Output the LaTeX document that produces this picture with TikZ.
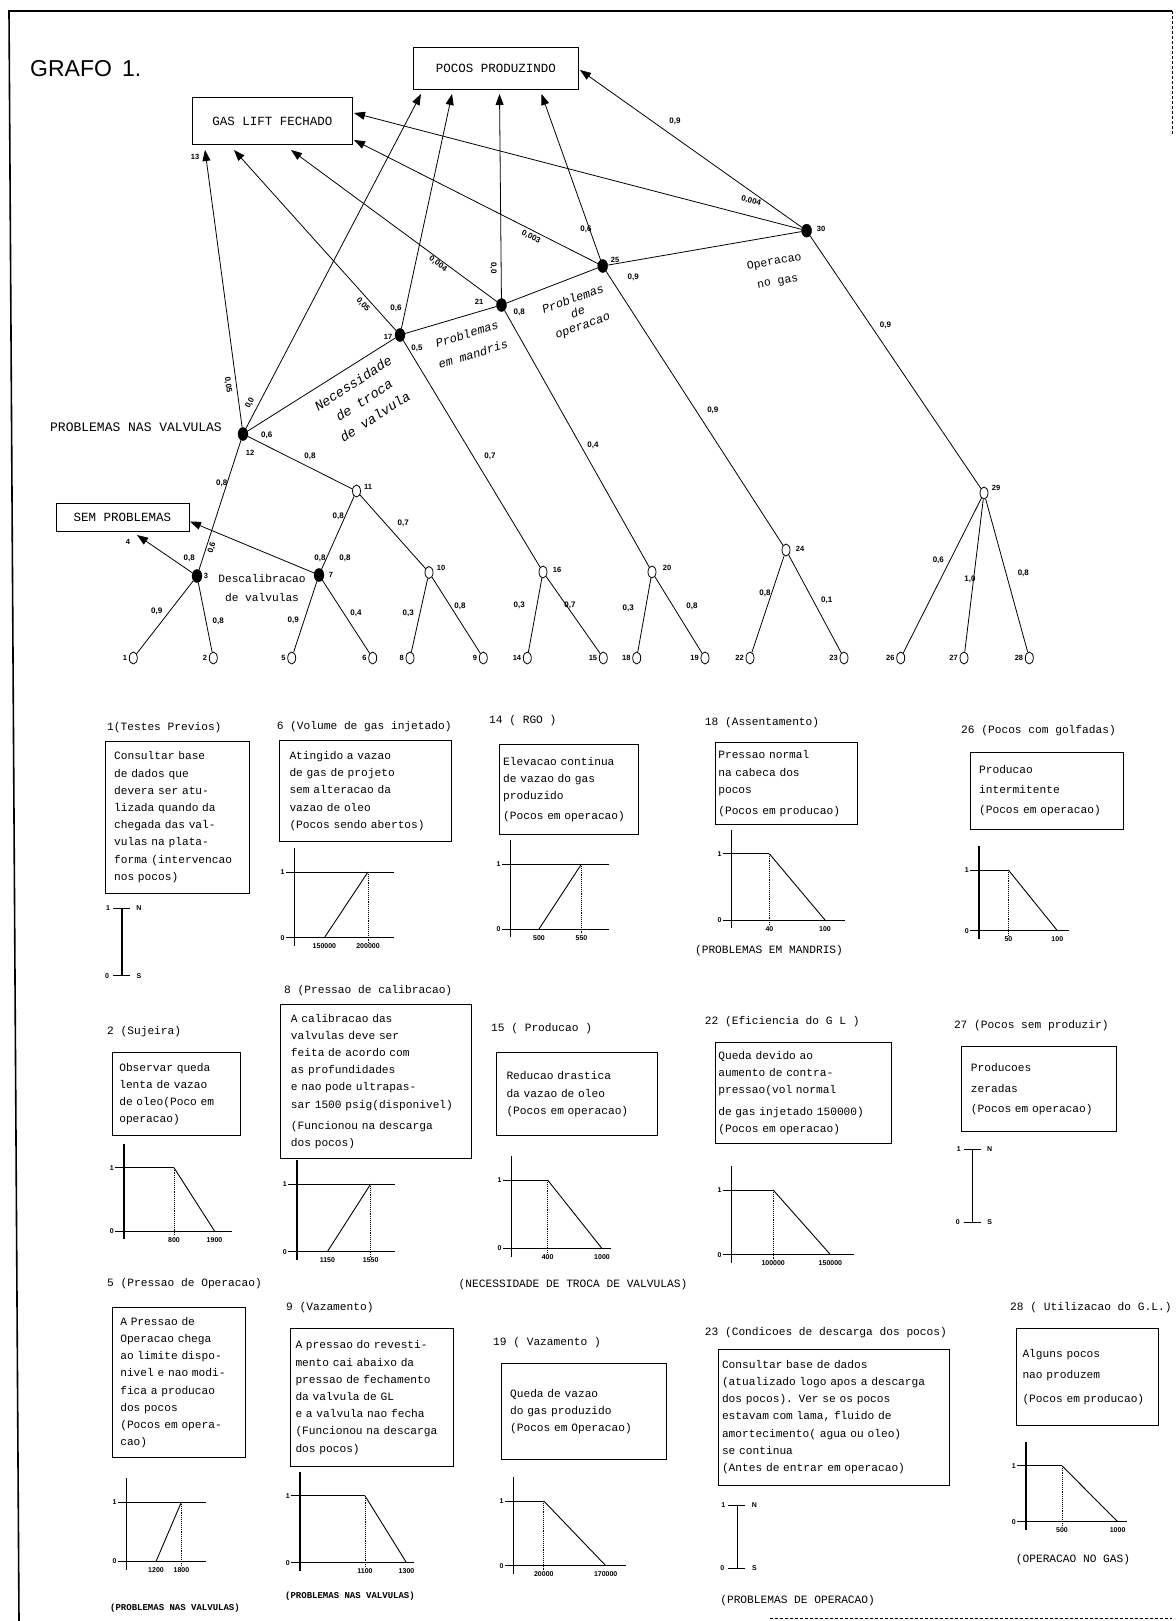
\documentclass[tikz,border=0pt]{standalone}
\usepackage{fontspec}
\setmainfont{Liberation Mono}
\newfontfamily\lsans{Liberation Sans}
\usetikzlibrary{shapes.geometric,arrows.meta}
\tikzset{
 ln/.style={line width=0.8pt},
 arr/.style={line width=0.8pt, -{Triangle[length=11pt,width=8pt]}},
 fnode/.style={ellipse, draw, fill=black, minimum width=10pt, minimum height=13pt, inner sep=0pt},
 onode/.style={ellipse, draw, fill=white, line width=0.8pt, minimum width=8pt, minimum height=12pt, inner sep=0pt},
 gbox/.style={draw, line width=1pt, anchor=north west, font=\fontsize{12.5}{14}\selectfont, inner sep=0pt},
 elab/.style={font=\lsans\bfseries\fontsize{8}{8}\selectfont, inner sep=0pt},
 nlab/.style={font=\lsans\bfseries\fontsize{7.5}{8}\selectfont, inner sep=0pt},
 rtext/.style={align=center, inner sep=0pt},
 descbox/.style={draw, line width=1pt, anchor=north west, align=left, inner ysep=3pt, font=\fontsize{11.2}{17.2}\selectfont},
 ttl/.style={anchor=west, inner sep=0pt, font=\fontsize{11.2}{13}\selectfont},
 axisl/.style={line width=1.3pt},
 cline/.style={line width=0.9pt},
 dropl/.style={line width=0.9pt, densely dotted},
 tickl/.style={font=\lsans\bfseries\fontsize{7}{7}\selectfont, inner sep=0pt},
 capt/.style={font=\fontsize{11.2}{13}\selectfont, inner sep=0pt},
 capts/.style={font=\bfseries\fontsize{9}{10}\selectfont, inner sep=0pt},
}
% increasing chart: name, ax, ly, oy, x1, x2, xe, lab1, lab2
\newcommand\chartU[9]{%
 \draw[axisl] (#2,#3-24) -- (#2,#4+8);
 \draw[cline] (#2-9,#3) -- (#7,#3);
 \draw[cline] (#2-9,#4) -- (#7,#4);
 \draw[cline] (#5,#4) -- (#6,#3);
 \draw[dropl] (#6,#3) -- (#6,#4+5);
 \node[tickl, anchor=east] (#1-one) at (#2-10,#3) {1};
 \node[tickl, anchor=east] (#1-zero) at (#2-10,#4) {0};
 \node[tickl, anchor=north] (#1-a) at (#5,#4+6) {#8};
 \node[tickl, anchor=north] (#1-b) at (#6,#4+6) {#9};
}
% decreasing chart
\newcommand\chartD[9]{%
 \draw[axisl] (#2,#3-24) -- (#2,#4+8);
 \draw[cline] (#2-9,#3) -- (#5,#3);
 \draw[cline] (#2-9,#4) -- (#7,#4);
 \draw[dropl] (#5,#3) -- (#5,#4+5);
 \draw[cline] (#5,#3) -- (#6,#4);
 \node[tickl, anchor=east] (#1-one) at (#2-10,#3) {1};
 \node[tickl, anchor=east] (#1-zero) at (#2-10,#4) {0};
 \node[tickl, anchor=north] (#1-a) at (#5,#4+6) {#8};
 \node[tickl, anchor=north] (#1-b) at (#6,#4+6) {#9};
}
% scale N/S: name, x, top, bottom
\newcommand\scaleNS[4]{%
 \draw[axisl] (#2,#3) -- (#2,#4);
 \draw[cline] (#2-9,#3) -- (#2+8,#3);
 \draw[cline] (#2-9,#4) -- (#2+8,#4);
 \node[tickl] (#1-1) at (#2-14,#3) {1};
 \node[tickl] (#1-n) at (#2+17,#3) {N};
 \node[tickl] (#1-0) at (#2-15,#4) {0};
 \node[tickl] (#1-s) at (#2+17,#4) {S};
}
\begin{document}
\begin{tikzpicture}[x=1pt,y=-1pt]
\useasboundingbox (0,0) rectangle (1175,1621);
% border
\draw[line width=1.6pt] (19,1621) -- (9,11) -- (1172,11);
\draw[line width=0.8pt, densely dashed] (1172,11) -- (1172,135);
\draw[line width=0.8pt, densely dashed] (770,1618) -- (1172,1618);

% ---------- graph ----------
\node[anchor=west, inner sep=0pt, font=\lsans\fontsize{23}{25}\selectfont] (grafo) at (30,69) {GRAFO\, 1.};
\node[gbox, minimum width=165pt, minimum height=42pt] (pp) at (413,47) {POCOS PRODUZINDO};
\node[gbox, minimum width=160pt, minimum height=47pt] (gl) at (192,97) {GAS LIFT FECHADO};
\node[gbox, minimum width=133pt, minimum height=28pt] (sem) at (55.5,503) {SEM PROBLEMAS};
\node[anchor=east, inner sep=0pt, font=\fontsize{13}{15}\selectfont] (pnv) at (222,427) {PROBLEMAS NAS VALVULAS};

\node[fnode] (n12) at (243,434) {};
\node[fnode] (n17) at (400,335) {};
\node[fnode] (n21) at (501.5,305) {};
\node[fnode] (n25) at (602.7,266) {};
\node[fnode] (n30) at (806.6,230.7) {};
\node[fnode] (n3) at (197,576) {};
\node[fnode] (n7) at (319,575) {};
\node[onode] (n11) at (356.5,491) {};
\node[onode] (n10) at (429,572.5) {};
\node[onode] (n16) at (543,572) {};
\node[onode] (n20) at (652,572) {};
\node[onode] (n24) at (786,550) {};
\node[onode] (n29) at (984,493) {};

\foreach \nm/\xx in {1/133.3, 2/213.3, 5/291.7, 6/372.7, 8/410, 9/483.3, 14/527.3, 15/603.3, 18/636.7, 19/705, 22/750, 23/844, 26/900.7, 27/964, 28/1029.3}{
  \node[onode] (l\nm) at (\xx,658) {};
  \node[nlab, anchor=east] (ll\nm) at (\xx-6,658) {\nm};
}

\node[nlab] (k12) at (250,453) {12};
\node[nlab] (k17) at (388,337) {17};
\node[nlab] (k21) at (479,302) {21};
\node[nlab] (k25) at (615,260) {25};
\node[nlab] (k30) at (821,229) {30};
\node[nlab] (k3) at (206,576) {3};
\node[nlab] (k7) at (331,575) {7};
\node[nlab] (k11) at (368,487) {11};
\node[nlab] (k10) at (441,568) {10};
\node[nlab] (k16) at (557,570) {16};
\node[nlab] (k20) at (667,568) {20};
\node[nlab] (k24) at (800,549) {24};
\node[nlab] (k29) at (996,488) {29};
\node[nlab] (k13) at (195,157) {13};
\node[nlab] (k4) at (128,542) {4};

\foreach \a/\b in {n3/l1, n3/l2, n7/l5, n7/l6, n10/l8, n10/l9, n16/l14, n16/l15, n20/l18, n20/l19, n24/l22, n24/l23, n29/l26, n29/l27, n29/l28, n11/n7, n11/n10, n12/n3, n12/n11, n12/n17, n17/n16, n17/n21, n21/n20, n21/n25, n25/n24, n25/n30, n30/n29}
  \draw[ln] (\a) -- (\b);

\coordinate (tsem1) at (137,535);
\coordinate (tsem2) at (190,521.5);
\coordinate (tgl12) at (205,150);
\coordinate (tgl17) at (234,150);
\coordinate (tgl21) at (291,150);
\coordinate (tgl25) at (354,140);
\coordinate (tgl30) at (354,113);
\coordinate (tpp12) at (421,94);
\coordinate (tpp17) at (452,94);
\coordinate (tpp21) at (499.5,94);
\coordinate (tpp25) at (541.5,94);
\coordinate (tpp30) at (580,70);

\draw[arr] (n3) -- (tsem1);
\draw[arr] (n7) -- (tsem2);
\draw[arr] (n12) -- (tgl12);
\draw[arr] (n17) -- (tgl17);
\draw[arr] (n21) -- (tgl21);
\draw[arr] (n25) -- (tgl25);
\draw[arr] (n30) -- (tgl30);
\draw[arr] (n12) -- (tpp12);
\draw[arr] (n17) -- (tpp17);
\draw[arr] (n21) -- (tpp21);
\draw[arr] (n25) -- (tpp25);
\draw[arr] (n30) -- (tpp30);

% rotated texts
\node[rtext, rotate=33, font=\itshape\fontsize{13.5}{20}\selectfont] (nec) at (364,400) {Necessidade\\de troca\\de valvula};
\node[rtext, rotate=17, font=\itshape\fontsize{12}{21}\selectfont] (pem) at (470,344) {Problemas\\em mandris};
\node[rtext, rotate=20, font=\itshape\fontsize{12}{14}\selectfont] (pdo) at (578,313) {Problemas\\de\\operacao};
\node[rtext, rotate=10, font=\fontsize{11.5}{20}\selectfont] (ong) at (776,272) {Operacao\\no gas};
\node[rtext, font=\fontsize{11.2}{19}\selectfont] (desc) at (262,588) {Descalibracao\\de valvulas};

% edge labels
\node[elab] (e1) at (156.7,611.7) {0,9};
\node[elab] (e2) at (218.3,621.7) {0,8};
\node[elab] (e3) at (293.3,620) {0,9};
\node[elab] (e4) at (356,613.3) {0,4};
\node[elab] (e5) at (408.3,613.3) {0,3};
\node[elab] (e6) at (460,606.7) {0,8};
\node[elab] (e7) at (519.3,605) {0,3};
\node[elab] (e8) at (570,605) {0,7};
\node[elab] (e9) at (628.3,608.3) {0,3};
\node[elab] (e10) at (692,606.7) {0,8};
\node[elab] (e11) at (765,593.3) {0,8};
\node[elab] (e12) at (826.7,600) {0,1};
\node[elab] (e13) at (938.3,560) {0,6};
\node[elab] (e14) at (970,579.3) {1,0};
\node[elab] (e15) at (1023.3,573.3) {0,8};
\node[elab] (e16) at (189.3,558.3) {0,8};
\node[elab, rotate=75] (e17) at (212,548) {0,6};
\node[elab] (e18) at (320,558.3) {0,8};
\node[elab] (e19) at (345,558.3) {0,8};
\node[elab] (e20) at (338.3,516.7) {0,8};
\node[elab] (e21) at (403.3,523.3) {0,7};
\node[elab] (e22) at (221.7,483.3) {0,8};
\node[elab] (e23) at (310,456.7) {0,8};
\node[elab] (e24) at (266.7,435) {0,6};
\node[elab, rotate=62] (e25) at (250,403) {0,0};
\node[elab, rotate=-82] (e26) at (228,385) {0,05};
\node[elab, rotate=-48] (e27) at (363,305) {0,05};
\node[elab] (e28) at (396,308) {0,6};
\node[elab] (e29) at (417,348) {0,5};
\node[elab, rotate=-36] (e30) at (438,264) {0,004};
\node[elab, rotate=-90] (e31) at (493.3,268) {0,0};
\node[elab] (e32) at (519.3,312.7) {0,8};
\node[elab, rotate=-27] (e33) at (531,237) {0,003};
\node[elab] (e34) at (586,229) {0,6};
\node[elab] (e35) at (633.3,277.3) {0,9};
\node[elab] (e36) at (675,121.7) {0,9};
\node[elab, rotate=-15] (e37) at (751,201) {0,004};
\node[elab] (e38) at (885.5,325) {0,9};
\node[elab] (e39) at (593,445) {0,4};
\node[elab] (e40) at (712.8,410) {0,9};
\node[elab] (e41) at (490,456.7) {0,7};

% ---------- descriptions ----------
\node[ttl] (t1) at (107,728) {1(Testes Previos)};
\node[ttl] (t6) at (276.6,726.4) {6 (Volume de gas injetado)};
\node[ttl] (t14) at (489,720.5) {14 ( RGO )};
\node[ttl] (t18) at (704.7,722.3) {18 (Assentamento)};
\node[ttl] (t26) at (961,730.5) {26 (Pocos com golfadas)};
\node[ttl] (t2) at (107,1031.6) {2 (Sujeira)};
\node[ttl] (t8) at (284,990.5) {8 (Pressao de calibracao)};
\node[ttl] (t15) at (491,1028.6) {15 ( Producao )};
\node[ttl] (t22) at (704.7,1021.6) {22 (Eficiencia do G L )};
\node[ttl] (t27) at (953.8,1025.7) {27 (Pocos sem produzir)};
\node[ttl] (t5) at (107,1284) {5 (Pressao de Operacao)};
\node[ttl] (t9) at (286,1307.4) {9 (Vazamento)};
\node[ttl] (t19) at (493,1342.6) {19 ( Vazamento )};
\node[ttl] (t23) at (704.7,1332.6) {23 (Condicoes de descarga dos pocos)};
\node[ttl] (t28) at (1010,1307.4) {28 ( Utilizacao do G.L.)};

\node[descbox, inner xsep=9pt, text width=126.4pt, minimum height=151.5pt] (b1) at (104.6,741)
 {Consultar base\\de dados que\\devera ser atu-\\lizada quando da\\chegada das val-\\vulas na plata-\\forma (intervencao\\nos pocos)};
\node[descbox, inner xsep=10pt, text width=152pt, minimum height=101pt] (b6) at (279,740)
 {Atingido a vazao\\de gas de projeto\\sem alteracao da\\vazao de oleo\\(Pocos sendo abertos)};
\node[descbox, inner xsep=4pt, text width=131pt, minimum height=90pt] (b14) at (498.7,744)
 {Elevacao continua\\de vazao do gas\\produzido\\[3pt](Pocos em operacao)};
\node[descbox, inner xsep=3pt, text width=136pt, minimum height=82pt] (b18) at (714.8,742.3)
 {Pressao normal\\na cabeca dos\\pocos\\[4pt](Pocos em producao)};
\node[descbox, inner xsep=9pt, text width=135.6pt, minimum height=77.4pt] (b26) at (969.6,751.6)
 {Producao\\[3pt]intermitente\\[3pt](Pocos em operacao)};
\node[descbox, inner xsep=7pt, text width=114pt, minimum height=83.4pt] (b2) at (111.8,1052)
 {Observar queda\\lenta de vazao\\de oleo(Poco em\\operacao)};
\node[descbox, inner xsep=10pt, text width=170.6pt, minimum height=153.7pt] (b8) at (280.4,1004)
 {A calibracao das\\valvulas deve ser\\feita de acordo com\\as profundidades\\e nao pode ultrapas-\\sar 1500 psig(disponivel)\\[4pt](Funcionou na descarga\\dos pocos)};
\node[descbox, inner xsep=10pt, text width=140.5pt, minimum height=83.4pt] (b15) at (496,1052)
 {Reducao drastica\\da vazao de oleo\\(Pocos em operacao)};
\node[descbox, inner xsep=3pt, text width=169.8pt, minimum height=101pt] (b22) at (714.8,1042)
 {Queda devido ao\\aumento de contra-\\pressao(vol normal\\[4pt]de gas injetado 150000)\\(Pocos em operacao)};
\node[descbox, inner xsep=9pt, text width=136.3pt, minimum height=85.3pt] (b27) at (961.4,1046)
 {Producoes\\[3pt]zeradas\\[3pt](Pocos em operacao)};
\node[descbox, inner xsep=8pt, text width=116.8pt, minimum height=150pt] (b5) at (111.8,1307)
 {A Pressao de\\Operacao chega\\ao limite dispo-\\nivel e nao modi-\\fica a producao\\dos pocos\\(Pocos em opera-\\cao)};
\node[descbox, inner xsep=5pt, text width=152.8pt, minimum height=138pt] (b9) at (290,1328)
 {A pressao do revesti-\\mento cai abaixo da\\pressao de fechamento\\da valvula de GL\\e a valvula nao fecha\\(Funcionou na descarga\\dos pocos)};
\node[descbox, inner xsep=9pt, text width=147.4pt, minimum height=95.8pt] (b19) at (500.6,1363)
 {Queda de vazao\\do gas produzido\\(Pocos em Operacao)};
\node[descbox, inner xsep=4pt, text width=223.8pt, minimum height=136pt] (b23) at (717.5,1348.5)
 {Consultar base de dados\\(atualizado logo apos a descarga\\dos pocos). Ver se os pocos\\estavam com lama, fluido de\\amortecimento( agua ou oleo)\\se continua\\(Antes de entrar em operacao)};
\node[descbox, inner xsep=6pt, text width=130pt, minimum height=96.8pt] (b28) at (1016,1328)
 {Alguns pocos\\[4pt]nao produzem\\[6pt](Pocos em producao)\\[8pt]};

% charts
\chartU{c6}{294.7}{872}{937.7}{324.4}{368}{394}{150000}{200000}
\chartU{c8}{297}{1184}{1251.6}{327.4}{370.7}{395}{1150}{1550}
\chartU{c14}{510.7}{864}{929}{539}{581.5}{609}{500}{550}
\chartU{c5}{126.8}{1502}{1561.5}{156}{181.4}{206}{1200}{1800}
\chartD{c2}{124}{1167.7}{1231}{174}{214.5}{231.5}{800}{1900}
\chartD{c9}{300}{1495.8}{1562.7}{365}{406.5}{414}{1100}{1300}
\chartD{c15}{511.8}{1180}{1248.5}{547.6}{602}{611}{400}{1000}
\chartD{c19}{513.7}{1501}{1565.6}{543.8}{605.7}{626.4}{20000}{170000}
\chartD{c18}{731.8}{853.8}{920}{769.4}{825}{844.7}{40}{100}
\chartD{c22}{731.8}{1190}{1254.6}{773.2}{830.4}{854}{100000}{150000}
\chartD{c26}{979}{870}{930.6}{1008.4}{1057.3}{1068.6}{50}{100}
\chartD{c28}{1026}{1465.8}{1521.6}{1062}{1117.6}{1127}{500}{1000}

\scaleNS{s1}{122}{908}{975.8}
\scaleNS{s27}{972.7}{1149}{1222.3}
\scaleNS{s23}{737.4}{1505}{1568.5}

% captions
\node[capt] (cap18) at (769,951) {(PROBLEMAS EM MANDRIS)};
\node[capt] (cap15) at (573,1285) {(NECESSIDADE DE TROCA DE VALVULAS)};
\node[capts] (cap5) at (175,1608) {(PROBLEMAS NAS VALVULAS)};
\node[capts] (cap9) at (350,1596) {(PROBLEMAS NAS VALVULAS)};
\node[capt] (cap23) at (797.6,1600.8) {(PROBLEMAS DE OPERACAO)};
\node[capt] (cap28) at (1073,1559.7) {(OPERACAO NO GAS)};
\end{tikzpicture}
\end{document}
